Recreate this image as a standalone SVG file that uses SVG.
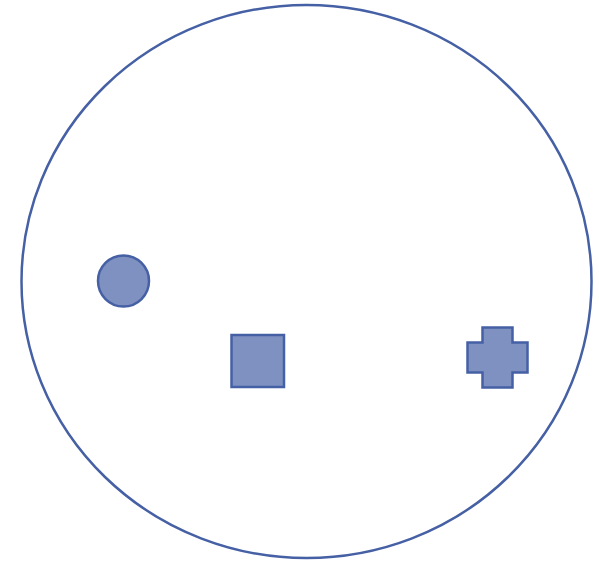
<svg xmlns="http://www.w3.org/2000/svg" width="599" height="565" viewBox="0 0 599 565">
<style>
.s{stroke:#4560A4;stroke-width:2.5}
.f{fill:#7F91C1}
</style>
<rect width="599" height="565" fill="#ffffff"/>
<g id="boundary"><ellipse class="s" fill="none" cx="306.5" cy="281.5" rx="285" ry="276.5"/></g>
<g id="circle"><circle class="s f" cx="123.5" cy="281" r="25.5"/></g>
<g id="square"><rect class="s f" x="231.5" y="335" width="52.5" height="52"/></g>
<g id="cross"><path class="s f" d="M482.5 327.5H512.5V342.5H527.5V372.5H512.5V387.5H482.5V372.5H467.5V342.5H482.5Z"/></g>
<g id="connectors"></g>
</svg>
